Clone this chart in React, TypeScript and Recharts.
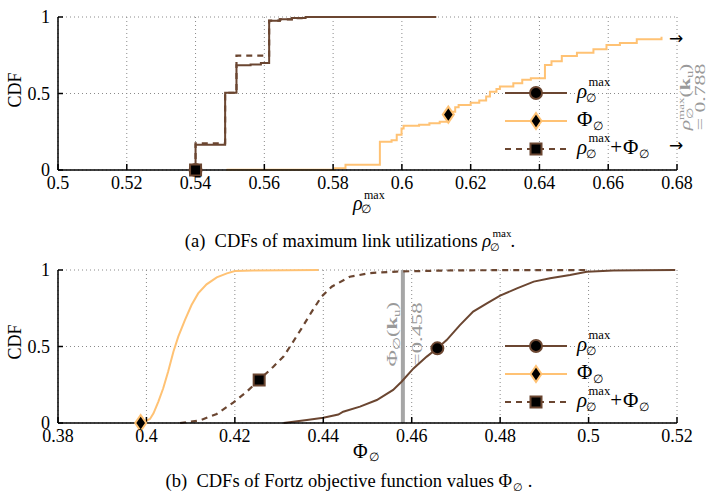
import React from "react";
import {
  CartesianGrid,
  ComposedChart,
  Legend,
  Line,
  ReferenceLine,
  Scatter,
  XAxis,
  YAxis,
} from "recharts";

const BROWN = "#6b4631";
const ORANGE = "#ffc274";
const GRAY = "#a6a6a6";
const FONT = '"Liberation Serif", "Times New Roman", serif';

type Pt = [number, number];

// (a) CDFs of max link utilization
const xTicksA = [0.5, 0.52, 0.54, 0.56, 0.58, 0.6, 0.62, 0.64, 0.66, 0.68];
const rhoA: Pt[] = [
  [0.54, 0], [0.54, 0.165], [0.5486, 0.505], [0.5519, 0.685], [0.556, 0.69],
  [0.559, 0.7], [0.5614, 0.976], [0.5645, 0.985], [0.568, 0.993], [0.572, 1], [0.61, 1],
];
const sumA: Pt[] = [
  [0.54, 0], [0.54, 0.175], [0.5486, 0.505], [0.5519, 0.747], [0.5614, 0.976],
  [0.5645, 0.985], [0.568, 0.993], [0.572, 1], [0.61, 1],
];
const phiA: Pt[] = [
  [0.549, 0.002], [0.5805, 0.012], [0.5836, 0.035], [0.5936, 0.185], [0.597, 0.195],
  [0.5985, 0.23], [0.5999, 0.272], [0.6005, 0.29], [0.605, 0.295], [0.608, 0.305],
  [0.611, 0.316], [0.6135, 0.35], [0.6145, 0.38], [0.6155, 0.41], [0.6165, 0.425],
  [0.62, 0.44], [0.6225, 0.455], [0.6245, 0.48], [0.6256, 0.512], [0.6275, 0.53],
  [0.6285, 0.545], [0.6324, 0.567], [0.635, 0.59], [0.6375, 0.6], [0.6416, 0.686],
  [0.6435, 0.71], [0.6465, 0.745], [0.6509, 0.767], [0.6557, 0.789], [0.6595, 0.817],
  [0.6634, 0.83], [0.6683, 0.854], [0.6755, 0.871],
];
const rhoMarkA = [{ x: 0.54, y: 0 }];
const phiMarkA = [{ x: 0.6135, y: 0.362 }];
const sumMarkA = [{ x: 0.54, y: 0 }];
const rhoKu = "0.788";

// (b) CDFs of Fortz objective values
const xTicksB = [0.38, 0.4, 0.42, 0.44, 0.46, 0.48, 0.5, 0.52];
const phiB: Pt[] = [
  [0.3987, 0], [0.4008, 0.026], [0.4016, 0.063], [0.4027, 0.14], [0.4038, 0.227],
  [0.4049, 0.335], [0.4061, 0.466], [0.4072, 0.564], [0.4087, 0.673], [0.4102, 0.771],
  [0.4117, 0.847], [0.4136, 0.906], [0.4159, 0.952], [0.4182, 0.978], [0.42, 0.993],
  [0.4242, 0.997], [0.4389, 1],
];
const sumB: Pt[] = [
  [0.4076, 0], [0.4121, 0.017], [0.4159, 0.059], [0.4197, 0.135], [0.4227, 0.205],
  [0.4255, 0.281], [0.4287, 0.368], [0.431, 0.434], [0.4332, 0.532], [0.4351, 0.619],
  [0.4374, 0.728], [0.4396, 0.826], [0.4419, 0.891], [0.446, 0.956], [0.4506, 0.98],
  [0.4566, 0.99], [0.47, 0.998], [0.5, 1],
];
const rhoB: Pt[] = [
  [0.431, 0], [0.4363, 0.02], [0.44, 0.035], [0.4434, 0.055], [0.4445, 0.074],
  [0.4483, 0.107], [0.4521, 0.15], [0.4558, 0.216], [0.4577, 0.27], [0.4604, 0.357],
  [0.4634, 0.434], [0.4658, 0.488], [0.4679, 0.542], [0.4709, 0.64], [0.4739, 0.728],
  [0.477, 0.782], [0.48, 0.832], [0.4838, 0.88], [0.4876, 0.924], [0.4913, 0.946],
  [0.4958, 0.967], [0.4996, 0.989], [0.5056, 0.996], [0.5116, 0.998], [0.5196, 1],
];
const rhoMarkB = [{ x: 0.4658, y: 0.488 }];
const phiMarkB = [{ x: 0.3987, y: 0 }];
const sumMarkB = [{ x: 0.4255, y: 0.281 }];
const phiKu = 0.458;

const yTicks = [0, 0.5, 1];

const pts = (a: Pt[]) => a.map(([x, y]) => ({ x, y }));

const Circle = (p: any) => (
  <circle cx={p.cx} cy={p.cy} r={6} fill="#000" stroke={BROWN} strokeWidth={2} />
);
const Diamond = (p: any) => (
  <polygon
    points={`${p.cx},${p.cy - 8} ${p.cx + 5.5},${p.cy} ${p.cx},${p.cy + 8} ${p.cx - 5.5},${p.cy}`}
    fill="#000"
    stroke={ORANGE}
    strokeWidth={2}
  />
);
const Square = (p: any) => (
  <rect x={p.cx - 5.5} y={p.cy - 5.5} width={11} height={11} fill="#000" stroke={BROWN} strokeWidth={2} />
);

function Sym({ base, italic, sup, sub, size }: { base: string; italic?: boolean; sup?: string; sub: string; size: number }) {
  return (
    <span style={{ position: "relative", display: "inline-block", fontSize: size, lineHeight: 1 }}>
      <span style={{ fontStyle: italic ? "italic" : "normal" }}>{base}</span>
      <span style={{ display: "inline-block", width: sup ? size * 1.05 : size * 0.6 }} />
      {sup && (
        <span style={{ position: "absolute", left: size * 0.55, top: -size * 0.2, fontSize: size * 0.6 }}>{sup}</span>
      )}
      <span style={{ position: "absolute", left: size * (italic ? 0.42 : 0.78), top: size * 0.55, fontSize: size * 0.58 }}>
        {sub}
      </span>
    </span>
  );
}

const RhoMax = ({ size }: { size: number }) => <Sym base="ρ" italic sup="max" sub="∅" size={size} />;
const PhiSym = ({ size }: { size: number }) => <Sym base="Φ" sub="∅" size={size} />;

const legendRows = [
  { key: "rho", stroke: BROWN, dash: undefined as string | undefined, Mark: Circle, label: <RhoMax size={21} /> },
  { key: "phi", stroke: ORANGE, dash: undefined, Mark: Diamond, label: <PhiSym size={21} /> },
  {
    key: "sum",
    stroke: BROWN,
    dash: "6 5",
    Mark: Square,
    label: (
      <>
        <RhoMax size={21} />
        <span style={{ fontSize: 21, margin: "0 1px" }}>+</span>
        <PhiSym size={21} />
      </>
    ),
  },
];

function LegendBox() {
  return (
    <div style={{ fontFamily: FONT, color: "#000" }}>
      {legendRows.map((r) => (
        <div key={r.key} style={{ display: "flex", alignItems: "center", height: 28 }}>
          <svg width={64} height={28} style={{ flexShrink: 0 }}>
            <line x1={0} x2={62} y1={14} y2={14} stroke={r.stroke} strokeWidth={2} strokeDasharray={r.dash} />
            <r.Mark cx={31} cy={14} />
          </svg>
          <span style={{ marginLeft: 8, position: "relative", top: -2, whiteSpace: "nowrap" }}>{r.label}</span>
        </div>
      ))}
    </div>
  );
}

const tickStyle = { fontSize: 18, fill: "#000", fontFamily: FONT };
const axisStyle = { stroke: "#000", strokeWidth: 1.5 };
const fmt = (v: number) => String(v);

function Panel({
  height,
  top,
  xHeight,
  domain,
  ticks,
  step,
  rho,
  phi,
  sum,
  marks,
  legendTop,
  children,
}: {
  height: number;
  top: number;
  xHeight: number;
  domain: [number, number];
  ticks: number[];
  step: boolean;
  rho: Pt[];
  phi: Pt[];
  sum: Pt[];
  marks: { rho: any[]; phi: any[]; sum: any[] };
  legendTop: number;
  children?: React.ReactNode;
}) {
  const type = step ? "stepAfter" : "linear";
  return (
    <ComposedChart width={707} height={height} margin={{ top, right: 30, bottom: 0, left: 0 }}>
      <CartesianGrid stroke="#8a8a8a" strokeDasharray="1 3" />
      <XAxis
        type="number"
        dataKey="x"
        domain={domain}
        ticks={ticks}
        interval={0}
        tickFormatter={fmt}
        height={xHeight}
        tick={tickStyle}
        axisLine={axisStyle}
        tickLine={axisStyle}
        tickSize={-6}
        tickMargin={12}
      />
      <YAxis
        type="number"
        domain={[0, 1]}
        ticks={yTicks}
        interval={0}
        width={58}
        tick={tickStyle}
        axisLine={axisStyle}
        tickLine={axisStyle}
        tickSize={-5}
        tickMargin={13}
      />
      {children}
      <Line data={pts(phi)} dataKey="y" type={type} stroke={ORANGE} strokeWidth={2} dot={false} activeDot={false} isAnimationActive={false} />
      <Line data={pts(sum)} dataKey="y" type={type} stroke={BROWN} strokeWidth={2.2} strokeDasharray="6 5" dot={false} activeDot={false} isAnimationActive={false} />
      <Line data={pts(rho)} dataKey="y" type={type} stroke={BROWN} strokeWidth={2} dot={false} activeDot={false} isAnimationActive={false} />
      <Scatter data={marks.rho} dataKey="y" shape={Circle} isAnimationActive={false} />
      <Scatter data={marks.phi} dataKey="y" shape={Diamond} isAnimationActive={false} />
      <Scatter data={marks.sum} dataKey="y" shape={Square} isAnimationActive={false} />
      <Legend
        layout="horizontal"
        verticalAlign="middle"
        align="center"
        content={() => <LegendBox />}
        wrapperStyle={{ position: "absolute", left: 505, top: legendTop, width: 195, height: 84 }}
      />
    </ComposedChart>
  );
}

const annot = { fill: "#9a9a9a", fontFamily: FONT, fontSize: 15 };

const KuLabel = (props: any) => {
  const vb = props.viewBox || {};
  const x = vb.x ?? 0;
  const cy = (vb.y ?? 0) + (vb.height ?? 0) * 0.42;
  return (
    <g>
      <text {...annot} textAnchor="middle" transform={`translate(${x - 6},${cy}) rotate(-90) scale(1.5,1)`}>
        Φ<tspan fontSize={10} dy={3}>∅</tspan>
        <tspan dy={-3}>(</tspan>
        <tspan fontWeight="bold">k</tspan>
        <tspan fontSize={10} dy={3}>u</tspan>
        <tspan dy={-3}>)</tspan>
      </text>
      <text {...annot} textAnchor="middle" transform={`translate(${x + 19},${cy}) rotate(-90) scale(1.5,1)`}>
        ={phiKu}
      </text>
    </g>
  );
};

export default function App() {
  return (
    <div
      style={{
        position: "absolute",
        left: 0,
        top: 0,
        width: 707,
        height: 496,
        background: "#fff",
        fontFamily: FONT,
        color: "#000",
        overflow: "hidden",
      }}
    >
      <div style={{ position: "absolute", left: 0, top: 0 }}>
        <Panel
          height={248}
          top={17}
          xHeight={78}
          domain={[0.5, 0.68]}
          ticks={xTicksA}
          step
          rho={rhoA}
          phi={phiA}
          sum={sumA}
          marks={{ rho: rhoMarkA, phi: phiMarkA, sum: sumMarkA }}
          legendTop={79}
        />
      </div>
      <div style={{ position: "absolute", left: 0, top: 250 }}>
        <Panel
          height={246}
          top={20}
          xHeight={73}
          domain={[0.38, 0.52]}
          ticks={xTicksB}
          step={false}
          rho={rhoB}
          phi={phiB}
          sum={sumB}
          marks={{ rho: rhoMarkB, phi: phiMarkB, sum: sumMarkB }}
          legendTop={82}
        >
          <ReferenceLine x={phiKu} stroke={GRAY} strokeWidth={4} label={<KuLabel />} />
        </Panel>
      </div>

      {/* annotations right of panel (a) */}
      <svg width={707} height={250} style={{ position: "absolute", left: 0, top: 0, pointerEvents: "none" }}>
        <text x={669} y={44} fontSize={17} fontFamily='"DejaVu Sans", sans-serif'>→</text>
        <text x={669} y={151} fontSize={17} fontFamily='"DejaVu Sans", sans-serif'>→</text>
        <text {...annot} textAnchor="middle" transform="translate(690,97) rotate(-90) scale(1.45,1)">
          <tspan fontStyle="italic">ρ</tspan>
          <tspan fontSize={9} dy={-6}>max</tspan>
          <tspan fontSize={9} dx={-15} dy={9}>∅</tspan>
          <tspan dx={7} dy={-3}>(</tspan>
          <tspan fontWeight="bold">k</tspan>
          <tspan fontSize={10} dy={3}>u</tspan>
          <tspan dy={-3}>)</tspan>
        </text>
        <text {...annot} textAnchor="middle" transform="translate(705,97) rotate(-90) scale(1.45,1)">
          = {rhoKu}
        </text>
      </svg>

      {/* axis titles */}
      <div style={{ position: "absolute", left: -15, top: 80, width: 60, height: 20, lineHeight: "20px", textAlign: "center", transform: "rotate(-90deg)", fontSize: 18 }}>
        CDF
      </div>
      <div style={{ position: "absolute", left: -15, top: 332, width: 60, height: 20, lineHeight: "20px", textAlign: "center", transform: "rotate(-90deg)", fontSize: 18 }}>
        CDF
      </div>
      <div style={{ position: "absolute", left: 353, top: 193, fontSize: 20, lineHeight: 1 }}>
        <RhoMax size={20} />
      </div>
      <div style={{ position: "absolute", left: 353, top: 441, fontSize: 20, lineHeight: 1 }}>
        <PhiSym size={20} />
      </div>

      {/* captions */}
      <div style={{ position: "absolute", left: 0, width: 700, top: 229, height: 24, lineHeight: "24px", textAlign: "center", fontSize: 18.5, whiteSpace: "nowrap" }}>
        (a)&ensp;CDFs of maximum link utilizations <RhoMax size={18.5} />.
      </div>
      <div style={{ position: "absolute", left: 0, width: 698, top: 469, height: 24, lineHeight: "24px", textAlign: "center", fontSize: 18.5, whiteSpace: "nowrap" }}>
        (b)&ensp;CDFs of Fortz objective function values <PhiSym size={18.5} />&nbsp;.
      </div>
    </div>
  );
}
